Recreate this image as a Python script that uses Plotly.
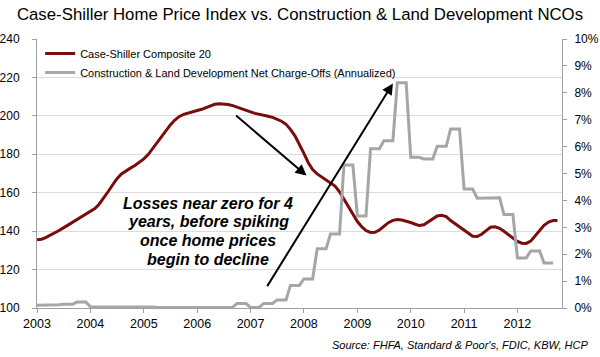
import pandas as pd
import plotly.graph_objects as go

# Case-Shiller Composite 20, monthly from Jan 2003
case_shiller = [
    135.5, 135.8, 136.6, 137.7, 139.0, 140.3, 141.7, 143.2, 144.7, 146.1, 147.4, 148.8,
    150.3, 151.8, 154.0, 157.0, 160.5, 164.0, 167.3, 169.8, 171.5, 172.8, 174.2, 175.8,
    177.6, 180.0, 182.8, 186.0, 189.3, 192.5, 195.3, 197.8, 199.7, 200.8, 201.6, 202.2,
    202.8, 203.4, 204.3, 205.3, 206.0, 206.3, 206.2, 205.9, 205.3, 204.6, 203.7, 202.8,
    202.1, 201.3, 200.7, 200.3, 199.8, 199.2, 198.3, 197.2, 195.6, 193.0, 189.6, 185.5,
    180.5, 175.5, 172.0, 169.8, 168.2, 166.8, 165.4, 163.5, 160.5, 156.8, 152.6, 148.6,
    145.0, 142.2, 140.3, 139.3, 139.4, 140.6, 142.5, 144.4, 145.6, 146.0, 145.8, 145.3,
    144.5, 143.6, 142.9, 143.3, 144.8, 146.6, 147.9, 148.3, 147.6, 145.5, 143.9, 142.3,
    140.5, 138.8, 137.3, 137.2, 138.4, 140.3, 142.0, 142.3, 141.5, 139.9, 138.0, 136.3,
    134.7, 133.7, 133.6, 134.8, 137.5, 140.5, 143.0, 144.7, 145.5, 145.6,
]

# Construction & Land Development net charge-offs (annualized, %), monthly from Jan 2003
nco_pct = [
    0.10, 0.10, 0.10, 0.12, 0.12, 0.12, 0.14, 0.14, 0.14, 0.22, 0.22, 0.22,
    0.05, 0.05, 0.05, 0.04, 0.04, 0.04, 0.03, 0.03, 0.03, 0.03, 0.03, 0.03,
    0.04, 0.04, 0.04, 0.02, 0.02, 0.02, 0.01, 0.01, 0.01, 0.01, 0.01, 0.01,
    0.02, 0.02, 0.02, 0.02, 0.02, 0.02, 0.03, 0.03, 0.03, 0.17, 0.17, 0.17,
    0.02, 0.02, 0.02, 0.17, 0.17, 0.17, 0.30, 0.30, 0.30, 0.84, 0.84, 0.84,
    1.08, 1.08, 1.08, 2.20, 2.20, 2.20, 2.75, 2.75, 2.75, 5.32, 5.32, 5.32,
    3.42, 3.42, 3.42, 5.92, 5.92, 5.92, 6.22, 6.22, 6.22, 8.37, 8.37, 8.37,
    5.60, 5.60, 5.60, 5.54, 5.54, 5.54, 6.01, 6.01, 6.01, 6.65, 6.65, 6.65,
    4.42, 4.42, 4.42, 4.08, 4.08, 4.08, 4.10, 4.10, 4.10, 3.48, 3.48, 3.48,
    1.86, 1.86, 1.86, 2.12, 2.12, 2.12, 1.67, 1.67, 1.67,
]

start_month = "2003-01-01"
cs_dates = pd.date_range(start_month, periods=len(case_shiller), freq="MS")
nco_dates = pd.date_range(start_month, periods=len(nco_pct), freq="MS")

FONT = "Liberation Sans, Arial, sans-serif"
RED = "#7a0c0c"
GRAY = "#a6a6a6"

fig = go.Figure()
fig.add_trace(go.Scatter(
    x=cs_dates, y=case_shiller, mode="lines", name="Case-Shiller Composite 20",
    line=dict(color=RED, width=3), yaxis="y"))
fig.add_trace(go.Scatter(
    x=nco_dates, y=[v / 100 for v in nco_pct], mode="lines",
    name="Construction & Land Development Net Charge-Offs (Annualized)",
    line=dict(color=GRAY, width=3), yaxis="y2"))

ann = []
text_lines = ["Losses near zero for 4", "years, before spiking", "once home prices", "begin to decline"]
line_y = [0.387, 0.320, 0.250, 0.182]
for t, yy in zip(text_lines, line_y):
    ann.append(dict(xref="paper", yref="paper", x=0.326, y=yy, text="<b><i>%s</i></b>" % t,
                    showarrow=False, xanchor="center", yanchor="middle",
                    font=dict(family=FONT, size=16, color="black")))
ann.append(dict(xref="x", yref="y", axref="x", ayref="y",
                x="2008-01-19", y=168.9, ax="2006-09-14", ay=200.8, text="",
                showarrow=True, arrowhead=2, arrowsize=1.1, arrowwidth=2, arrowcolor="black"))
ann.append(dict(xref="x", yref="y", axref="x", ayref="y",
                x="2009-09-01", y=216.9, ax="2007-04-19", ay=110.6, text="",
                showarrow=True, arrowhead=2, arrowsize=1.1, arrowwidth=2, arrowcolor="black"))
ann.append(dict(xref="paper", yref="paper", x=1.053, y=-0.1375, xanchor="right", yanchor="middle",
                text="<i>Source: FHFA, Standard &amp; Poor's, FDIC, KBW, HCP</i>", showarrow=False,
                font=dict(family=FONT, size=11, color="black")))

fig.update_layout(
    width=600, height=357,
    margin=dict(l=37, r=38, t=39, b=49, autoexpand=False),
    paper_bgcolor="white", plot_bgcolor="white",
    font=dict(family=FONT, size=12, color="black"),
    title=dict(text="Case-Shiller Home Price Index vs. Construction &amp; Land Development NCOs",
               x=0.5, xanchor="center", y=0.961, yanchor="middle",
               font=dict(family=FONT, size=16.8, color="black")),
    xaxis=dict(type="date", range=["2003-01-01", "2012-11-01"], tick0="2003-01-01", dtick="M12",
               tickformat="%Y", showgrid=False, showline=True, linecolor="#a0a0a0", linewidth=1,
               ticks="outside", ticklen=4, tickcolor="#a0a0a0", zeroline=False, automargin=False,
               tickfont=dict(size=12.5, family=FONT)),
    yaxis=dict(range=[100, 240], dtick=20, showgrid=True, gridcolor="#dcdcdc", gridwidth=1,
               showline=True, linecolor="#a0a0a0", linewidth=1, ticks="outside", ticklen=4,
               tickcolor="#a0a0a0", zeroline=False, ticklabelstandoff=10, automargin=False,
               tickfont=dict(size=12, family=FONT)),
    yaxis2=dict(range=[0, 0.10], dtick=0.01, tickformat=".0%", overlaying="y", side="right",
                showgrid=False, showline=True, linecolor="#a0a0a0", linewidth=1, ticks="outside",
                ticklen=4, tickcolor="#a0a0a0", zeroline=False, ticklabelstandoff=5,
                automargin=False, tickfont=dict(size=12, family=FONT)),
    legend=dict(x=0.006, y=1.0, xanchor="left", yanchor="top", bgcolor="rgba(0,0,0,0)",
                font=dict(family=FONT, size=11, color="black"), tracegroupgap=0),
    annotations=ann,
    showlegend=True,
)

fig.write_html("out.html", config={"displayModeBar": False},
               post_script="document.body.style.margin='0';")
